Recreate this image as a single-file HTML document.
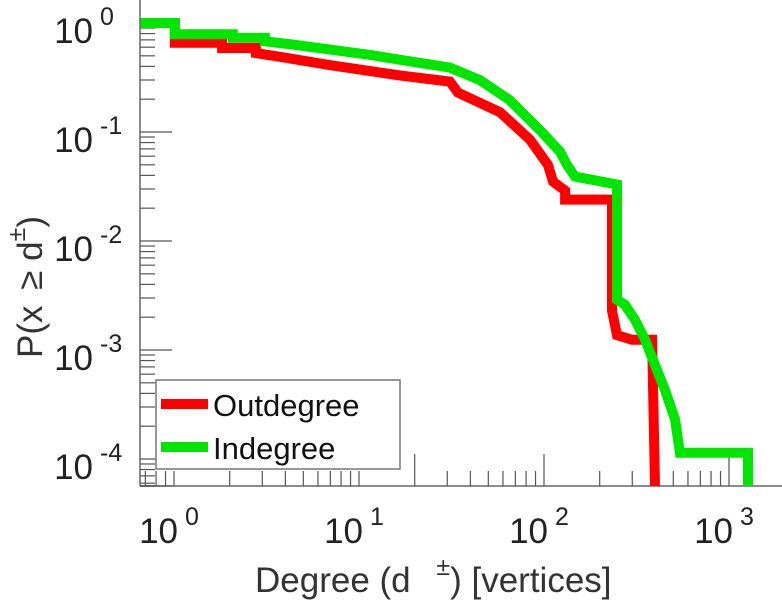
<!DOCTYPE html>
<html><head><meta charset="utf-8"><style>
body{margin:0;background:#fff;}
svg{display:block;font-family:"Liberation Sans",sans-serif;}
</style></head><body>
<svg id="chart" width="782" height="600">
<g id="axes"></g>
<g id="series"></g>
<g>
<rect x="156" y="380" width="244" height="89" fill="#fff" stroke="#777" stroke-width="1.5"/>
<line x1="161" y1="404" x2="208" y2="404" stroke="#ff0000" stroke-width="10"/>
<text x="213" y="416" font-size="31" fill="#111">Outdegree</text>
<line x1="161" y1="447" x2="208" y2="447" stroke="#00e600" stroke-width="10"/>
<text x="213" y="459" font-size="31" fill="#111">Indegree</text>
</g>
<text x="255" y="592" font-size="35" fill="#333">Degree (d <tspan dx="16" dy="-17" font-size="25">±</tspan><tspan dy="17">) [vertices]</tspan></text>
<text transform="translate(42,358) rotate(-90)" font-size="35" fill="#333">P(x <tspan dx="6">≥</tspan> d<tspan dy="-17" font-size="25">±</tspan><tspan dy="17">)</tspan></text>
</svg>
<script>
const outDeg = [0.66,1.01,1.01,1.82,1.82,2.77,2.77,3.74,7.0,16.7,31,34.3,57.8,84,105,112,130,130,233,233,248,299,384,398];
const outP   = [1,1,0.66,0.66,0.59,0.59,0.53,0.49,0.41,0.33,0.29,0.23,0.152,0.085,0.050,0.035,0.029,0.024,0.024,0.0023,0.00137,0.00124,0.00124,0.0000565];
const inDeg  = [0.66,1.01,1.01,2.08,2.08,3.1,3.1,4.2,7.0,11.5,16.7,31,45,65,95,122,133,147,248,248,274,310,352,398,451,511,543,1267,1267];
const inP    = [1,1,0.79,0.79,0.73,0.73,0.68,0.64,0.57,0.51,0.46,0.39,0.30,0.197,0.104,0.066,0.050,0.039,0.033,0.0029,0.0026,0.0019,0.00124,0.00073,0.00043,0.00023,0.000114,0.000114,0.0000565];
const xTickExps = [0,1,2,3];
const yTickExps = [0,-1,-2,-3,-4];
const xMajorMinor = [20,1000];

const X0=174, XD=185, Y0=23, YD=109, LEFT=140, BOTTOM=486;
const sx=v=>X0+Math.log10(v)*XD;
const sy=v=>Math.min(BOTTOM,Y0-Math.log10(v)*YD);
const NS="http://www.w3.org/2000/svg";
const axes=document.getElementById('axes'), ser=document.getElementById('series');
function mk(tag,attrs,parent){const e=document.createElementNS(NS,tag);for(const k in attrs)e.setAttribute(k,attrs[k]);parent.appendChild(e);return e;}

let l=mk('line',{x1:LEFT,y1:0,x2:LEFT,y2:BOTTOM,stroke:'#666','stroke-width':1.5},axes);


l=mk('line',{x1:LEFT,y1:BOTTOM,x2:782,y2:BOTTOM,stroke:'#666','stroke-width':1.5},axes);



for(let e=1;e>=-5;e--){
  for(let m=1;m<10;m++){
    const y=sy(m*Math.pow(10,e));
    if(y<0||y>BOTTOM)continue;
    const len=(m===1)?32:15;
    const t=mk('line',{x1:LEFT,y1:y,x2:LEFT+len,y2:y,stroke:'#555','stroke-width':1.2},axes);
    
    
  }
}
yTickExps.forEach(e=>{
  const y=sy(Math.pow(10,e));
  const t=mk('text',{x:93,y:y+20,'font-size':35,fill:'#222','text-anchor':'end'},axes);
  t.textContent='10';
  
  
  const s=mk('text',{x:100,y:y+2,'font-size':25,fill:'#222'},axes);
  s.textContent=String(e);
  
  
});
for(let e=-1;e<=3;e++){
  for(let m=1;m<10;m++){
    const v=m*Math.pow(10,e);const x=sx(v);
    if(x<LEFT||x>782)continue;
    const tall=(e===2&&m===1)||xMajorMinor.some(q=>Math.abs(q-v)<1e-6);
    const t=mk('line',{x1:x,y1:BOTTOM,x2:x,y2:BOTTOM-(tall?32:15),stroke:'#555','stroke-width':1.2},axes);
    
    
  }
}
xTickExps.forEach(e=>{
  const x=sx(Math.pow(10,e));
  const t=mk('text',{x:x+4,y:543,'font-size':35,fill:'#222','text-anchor':'end'},axes);
  t.textContent='10';
  
  
  const s=mk('text',{x:x+11,y:525,'font-size':25,fill:'#222'},axes);
  s.textContent=String(e);
  
  
});

function drawSeries(xs,ys,color,name){
  const pts=xs.map((v,i)=>Math.max(LEFT,sx(v)).toFixed(1)+','+sy(ys[i]).toFixed(1)).join(' ');
  const p=mk('polyline',{points:pts,fill:'none',stroke:color,'stroke-width':10,'stroke-linejoin':'miter','stroke-linecap':'butt'},ser);
  
  
}
drawSeries(outDeg,outP,'#ff0000','outdegree-line');
drawSeries(inDeg,inP,'#00e600','indegree-line');
</script>
</body></html>
